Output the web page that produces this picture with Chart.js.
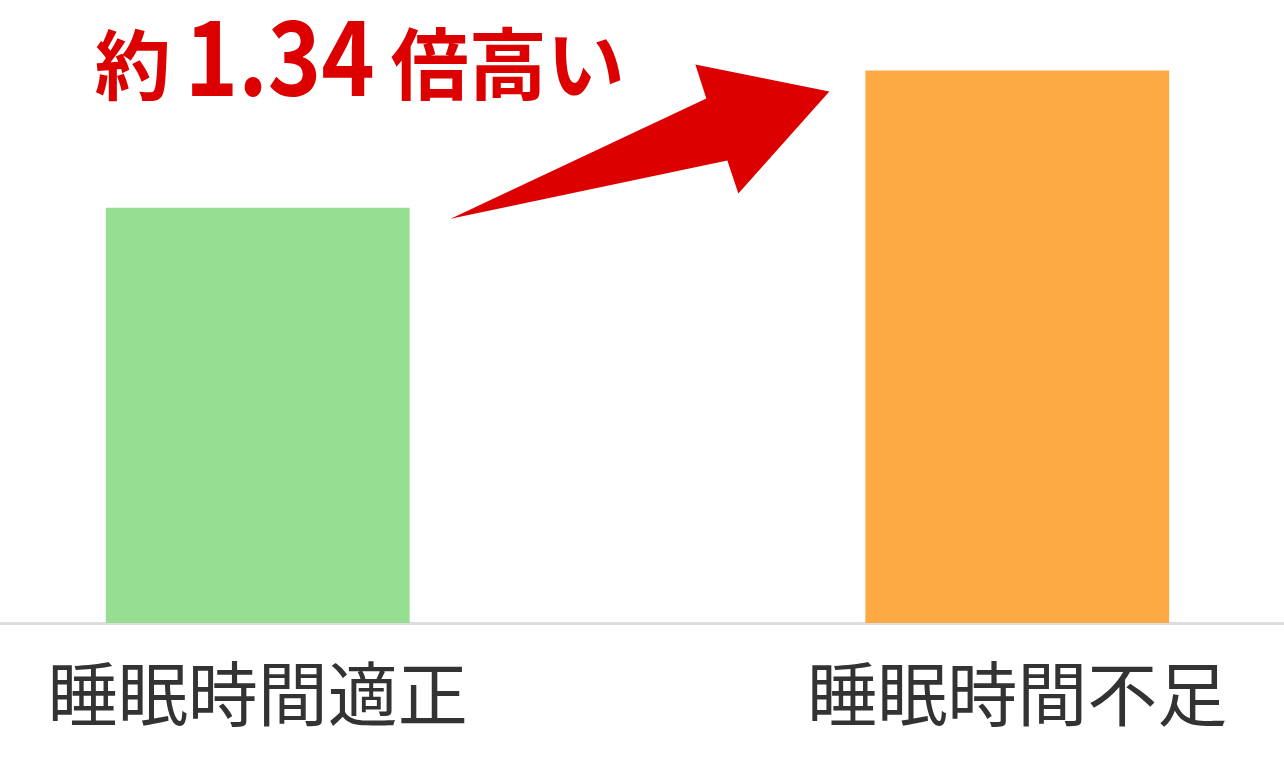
<!DOCTYPE html>
<html>
<head>
<meta charset="utf-8">
<script src="https://cdn.jsdelivr.net/npm/chart.js"></script>
<style>
  html, body { margin: 0; padding: 0; background: #fff; overflow: hidden; }
  #wrap { position: absolute; left: -122px; top: 0; width: 1519px; height: 765px; }
</style>
</head>
<body>
<div id="wrap"><canvas id="barChart"></canvas></div>
<script>
// chart data
const categories = ['睡眠時間適正', '睡眠時間不足'];
const values = [1.00, 1.33];
const barColors = ['#96de92', '#fdaa45'];
const yMin = 0;
const yMax = 1.5;
const noteParts = ['約', '1.34', '倍高い'];

// red headline + arrow, placed from the bar elements
const notePlugin = {
    id: 'note',
    afterDatasetsDraw(chart) {
        const ctx = chart.ctx;
        const bars = chart.getDatasetMeta(0).data;
        const g = bars[0], o = bars[1];
        const gLeft = g.x - g.width / 2, gRight = g.x + g.width / 2;
        const oLeft = o.x - o.width / 2;

        ctx.save();
        ctx.fillStyle = '#dd0000';

        // arrow
        const tail = { x: gRight + 41, y: g.y + 11 };
        const tip = { x: oLeft - 36, y: o.y + 21 };
        ctx.beginPath();
        ctx.moveTo(tail.x, tail.y);
        ctx.lineTo(tip.x - 123, tip.y + 7);
        ctx.lineTo(tip.x - 134, tip.y - 27);
        ctx.lineTo(tip.x, tip.y);
        ctx.lineTo(tip.x - 91, tip.y + 102);
        ctx.lineTo(tip.x - 102, tip.y + 69);
        ctx.closePath();
        ctx.fill();

        // headline
        ctx.textBaseline = 'alphabetic';
        let x = gLeft - 11;
        const base = 94;
        ctx.font = 'bold 76px "Noto Sans CJK JP"';
        ctx.fillText(noteParts[0], x, base);
        x += ctx.measureText(noteParts[0]).width + 14;
        ctx.font = 'bold 104px "Noto Sans CJK JP"';
        const w = ctx.measureText(noteParts[1]).width;
        const sx = 190 / w;
        ctx.save();
        ctx.translate(x, base + 2);
        ctx.scale(sx, 1);
        ctx.fillText(noteParts[1], 0, 0);
        ctx.restore();
        x += 190 + 16;
        ctx.font = 'bold 78px "Noto Sans CJK JP"';
        ctx.fillText(noteParts[2], x, base);
        ctx.restore();
    }
};

const ctx = document.getElementById('barChart').getContext('2d');
new Chart(ctx, {
    type: 'bar',
    data: {
        labels: categories,
        datasets: [{
            data: values,
            backgroundColor: barColors,
            borderWidth: 0,
            categoryPercentage: 1,
            barPercentage: 0.4
        }]
    },
    options: {
        responsive: true,
        maintainAspectRatio: false,
        devicePixelRatio: 1,
        animation: false,
        layout: { padding: { top: 0, bottom: 0, left: 0, right: 0 } },
        plugins: {
            legend: { display: false },
            tooltip: { enabled: false }
        },
        scales: {
            x: {
                grid: { display: false, drawTicks: false },
                border: { display: true, color: '#dddddd', width: 3 },
                ticks: {
                    color: '#333333',
                    padding: 29,
                    font: { family: '"Noto Sans CJK JP"', size: 70, weight: 'normal' }
                }
            },
            y: {
                display: false,
                min: yMin,
                max: yMax
            }
        }
    },
    plugins: [notePlugin]
});
</script>
</body>
</html>
